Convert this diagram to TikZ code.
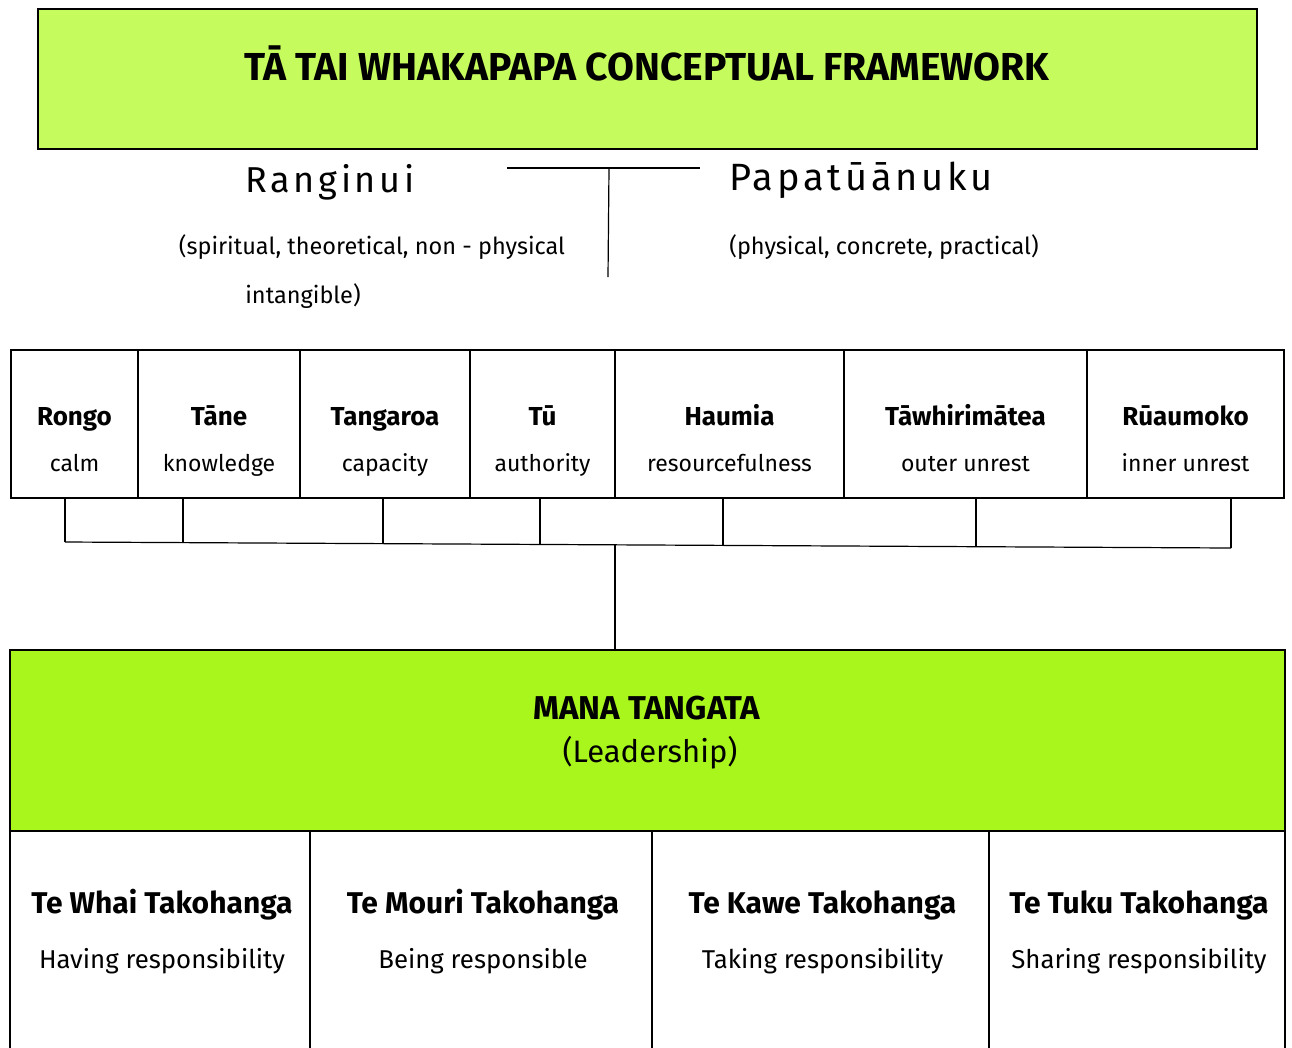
\documentclass[tikz,border=0pt]{standalone}
\usepackage{fontspec}
\setmainfont{Fira Sans}
\newfontfamily\widefont[LetterSpace=10]{Fira Sans}
\usetikzlibrary{positioning,calc}
\definecolor{titlegreen}{HTML}{C6FB5D}
\definecolor{managreen}{HTML}{A9F61D}

\begin{document}
\begin{tikzpicture}[x=1pt,y=-1pt,
    every node/.style={inner sep=0pt, outer sep=0pt},
    bigbox/.style={draw, line width=2pt},
    cell/.style={draw, line width=1.5pt},
    link/.style={line width=1.2pt},
    titletext/.style={font=\fontsize{39}{44}\selectfont\bfseries},
    parent/.style={font=\widefont\fontsize{36}{42}\selectfont},
    note/.style={font=\fontsize{23.5}{28}\selectfont},
    godname/.style={font=\fontsize{26}{30}\selectfont\bfseries},
    godsub/.style={font=\fontsize{23}{27}\selectfont},
    manatext/.style={font=\fontsize{33}{38}\selectfont\bfseries},
    dutyname/.style={font=\fontsize{30}{34}\selectfont\bfseries},
    dutysub/.style={font=\fontsize{25.8}{30}\selectfont}]
\useasboundingbox (0,0) rectangle (1292,1047);
\clip (0,0) rectangle (1292,1047);

\node[bigbox, fill=titlegreen, minimum width=1219pt, minimum height=140pt] (title) at (647.5,79) {};
\node[titletext, anchor=base] (titlelbl) at (647,80) {TĀ TAI WHAKAPAPA CONCEPTUAL FRAMEWORK};

\node[parent, anchor=base] (rangi) at (330,192) {Ranginui};
\node[parent, font=\widefont\fontsize{38}{42}\selectfont, anchor=base] (papa) at (861,190) {Papatūānuku};
\node[note, anchor=base] (rangi1) at (372,254) {(spiritual, theoretical, non - physical};
\node[note, anchor=base] (rangi2) at (303,303) {intangible)};
\node[note, anchor=base] (papa1) at (884,254) {(physical, concrete, practical)};
\coordinate (tl) at (507,168);
\coordinate (tr) at (700,168);
\coordinate (tm) at (609,168);
\coordinate (tb) at (608,277);
\draw[link] (tl) -- (tr);
\draw[link] (tm) -- (tb);

\coordinate (barL) at (65,542);
\coordinate (barR) at (1231,548);
\draw[link] (barL) -- (barR);
\foreach \xl/\xr/\dx/\nm/\mean [count=\i] in {11/138/65/Rongo/calm,
    138/300/183/Tāne/knowledge, 300/470/383/Tangaroa/capacity,
    470/615/540/Tū/authority, 615/844/723/Haumia/resourcefulness,
    844/1087/976/Tāwhirimātea/outer unrest, 1087/1284/1231/Rūaumoko/inner unrest} {
  \node[cell, minimum width={(\xr-\xl)*1pt}, minimum height=148pt] (atua\i) at ({(\xl+\xr)/2},424) {};
  \node[godname, anchor=base] (name\i) at ({(\xl+\xr)/2},425) {\nm};
  \node[godsub, anchor=base] (mean\i) at ({(\xl+\xr)/2},471) {\mean};
  \coordinate (drop\i) at ($(barL)!{(\dx-65)/1166}!(barR)$);
  \draw[link] (drop\i |- atua\i.south) -- (drop\i);
}

\foreach \xl/\xr/\nm/\mean [count=\i] in {10/310/Te Whai Takohanga/Having responsibility,
    310/652/Te Mouri Takohanga/Being responsible, 652/989/Te Kawe Takohanga/Taking responsibility,
    989/1285/Te Tuku Takohanga/Sharing responsibility} {
  \node[cell, minimum width={(\xr-\xl)*1pt}, minimum height=240pt, anchor=north] (duty\i) at ({(\xl+\xr)/2},831) {};
  \node[dutyname, anchor=base] (dname\i) at ({(\xl+\xr)/2+2},913) {\nm};
  \node[dutysub, anchor=base] (dsub\i) at ({(\xl+\xr)/2+2},968) {\mean};
}

\node[bigbox, fill=managreen, line width=2.5pt, minimum width=1275pt, minimum height=181pt] (mana) at (647.5,740.5) {};
\node[manatext, anchor=base] (manalbl) at (647,719) {MANA TANGATA};
\node[dutysub, font=\fontsize{31}{36}\selectfont, anchor=base] (lead) at (650,762) {(Leadership)};

\coordinate (stem) at ($(barL)!{(615-65)/1166}!(barR)$);
\draw[link] (stem) -- (stem |- mana.north);
\end{tikzpicture}
\end{document}
